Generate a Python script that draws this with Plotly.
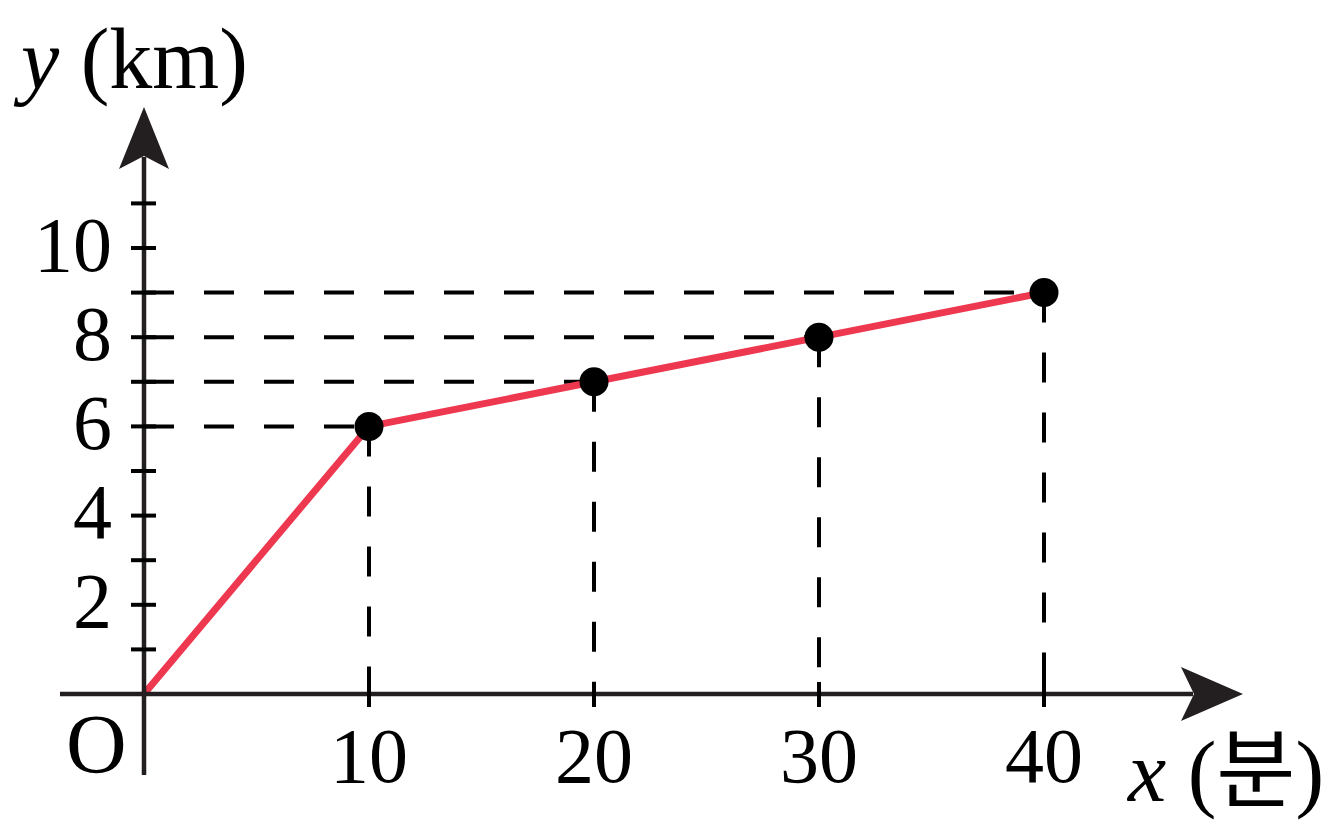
import plotly.graph_objects as go

# ---- data ----
minutes = [0, 10, 20, 30, 40]
distance_km = [0, 6, 7, 8, 9]
x_tick_vals = [10, 20, 30, 40]
x_tick_text = ["10", "20", "30", "40"]
y_tick_vals = [2, 4, 6, 8, 10]
y_tick_text = ["2", "4", "6", "8", "10"]
y_minor_ticks = [1, 2, 3, 4, 5, 6, 7, 8, 9, 10, 11]
x_label = "<i>x</i> (분)"
y_label = "<i>y</i> (km)"
origin_label = "O"

# ---- layout geometry (pixels, figure coordinates; page body adds 8px) ----
W, H = 1323, 815
OX, OY = 136, 686          # pixel position of the origin inside the figure
PX_X, PX_Y = 22.5, 44.6    # pixels per data unit


def dx(px):
    return px / PX_X


def dy(px):
    return px / PX_Y


x_range = [-OX / PX_X, (W - OX) / PX_X]
y_range = [-(H - OY) / PX_Y, OY / PX_Y]

AXIS_COLOR = "#231f20"
RED = "#EE3850"
FONT = "Liberation Serif, 'Noto Sans CJK KR', serif"
FS = 78
FS_LABEL = 86

fig = go.Figure()

# dashed guide lines
for xv, yv in zip(minutes[1:], distance_km[1:]):
    fig.add_trace(go.Scatter(x=[0, xv], y=[yv, yv], mode="lines",
                             line=dict(color="black", width=4, dash="30px,30px"),
                             hoverinfo="skip", showlegend=False))
    fig.add_trace(go.Scatter(x=[xv, xv], y=[yv, 0], mode="lines",
                             line=dict(color="black", width=4, dash="30px,30px"),
                             hoverinfo="skip", showlegend=False))

# red polyline
fig.add_trace(go.Scatter(x=minutes, y=distance_km, mode="lines",
                         line=dict(color=RED, width=7),
                         hoverinfo="skip", showlegend=False))
# points
fig.add_trace(go.Scatter(x=minutes[1:], y=distance_km[1:], mode="markers",
                         marker=dict(color="black", size=29),
                         hoverinfo="skip", showlegend=False))

shapes = []
# x axis
x_left = dx(52 - OX)
x_tip = dx(1235 - OX)
shapes.append(dict(type="line", xref="x", yref="y", x0=x_left, y0=0,
                   x1=x_tip - dx(50), y1=0,
                   line=dict(color=AXIS_COLOR, width=4.5), layer="above"))
shapes.append(dict(type="path", xref="x", yref="y", layer="above",
                   path=(f"M {x_tip},0 L {x_tip - dx(62)},{dy(27)} "
                         f"L {x_tip - dx(49)},0 L {x_tip - dx(62)},{-dy(27)} Z"),
                   fillcolor=AXIS_COLOR, line=dict(width=0)))
# y axis
y_bottom = dy(OY - 767)
y_tip = dy(OY - 99)
shapes.append(dict(type="line", xref="x", yref="y", x0=0, y0=y_bottom,
                   x1=0, y1=y_tip - dy(50),
                   line=dict(color=AXIS_COLOR, width=4.5), layer="above"))
shapes.append(dict(type="path", xref="x", yref="y", layer="above",
                   path=(f"M 0,{y_tip} L {dx(25)},{y_tip - dy(62)} "
                         f"L 0,{y_tip - dy(49)} L {-dx(25)},{y_tip - dy(62)} Z"),
                   fillcolor=AXIS_COLOR, line=dict(width=0)))
# ticks
for yv in y_minor_ticks:
    shapes.append(dict(type="line", xref="x", yref="y", x0=-dx(13), x1=dx(12),
                       y0=yv, y1=yv, line=dict(color="black", width=4),
                       layer="above"))
for xv in x_tick_vals:
    shapes.append(dict(type="line", xref="x", yref="y", x0=xv, x1=xv,
                       y0=dy(12), y1=-dy(13), line=dict(color="black", width=4),
                       layer="above"))

font = dict(family=FONT, size=FS, color="black")
annotations = []
for yv, t in zip(y_tick_vals, y_tick_text):
    annotations.append(dict(x=-dx(30), y=yv + dy(4), xref="x", yref="y", text=t,
                            showarrow=False, xanchor="right", yanchor="middle",
                            font=font))
for xv, t in zip(x_tick_vals, x_tick_text):
    annotations.append(dict(x=xv, y=-dy(61), xref="x", yref="y", text=t,
                            showarrow=False, xanchor="center", yanchor="middle",
                            font=font))
annotations.append(dict(x=-dx(48), y=-dy(50), xref="x", yref="y", text=origin_label,
                        showarrow=False, xanchor="center", yanchor="middle",
                        font=dict(family=FONT, size=84, color="black")))
annotations.append(dict(x=dx(1217 - OX), y=dy(OY - 764), xref="x", yref="y",
                        text=x_label, showarrow=False, xanchor="center",
                        yanchor="middle",
                        font=dict(family=FONT, size=FS_LABEL, color="black")))
annotations.append(dict(x=dx(122 - OX), y=dy(OY - 51), xref="x", yref="y",
                        text=y_label, showarrow=False, xanchor="center",
                        yanchor="middle",
                        font=dict(family=FONT, size=FS_LABEL, color="black")))

fig.update_layout(
    width=W, height=H,
    margin=dict(l=0, r=0, t=0, b=0),
    paper_bgcolor="white", plot_bgcolor="white",
    xaxis=dict(range=x_range, visible=False, fixedrange=True),
    yaxis=dict(range=y_range, visible=False, fixedrange=True),
    shapes=shapes, annotations=annotations,
    showlegend=False,
)

fig.write_html("out.html", config={"displayModeBar": False})
